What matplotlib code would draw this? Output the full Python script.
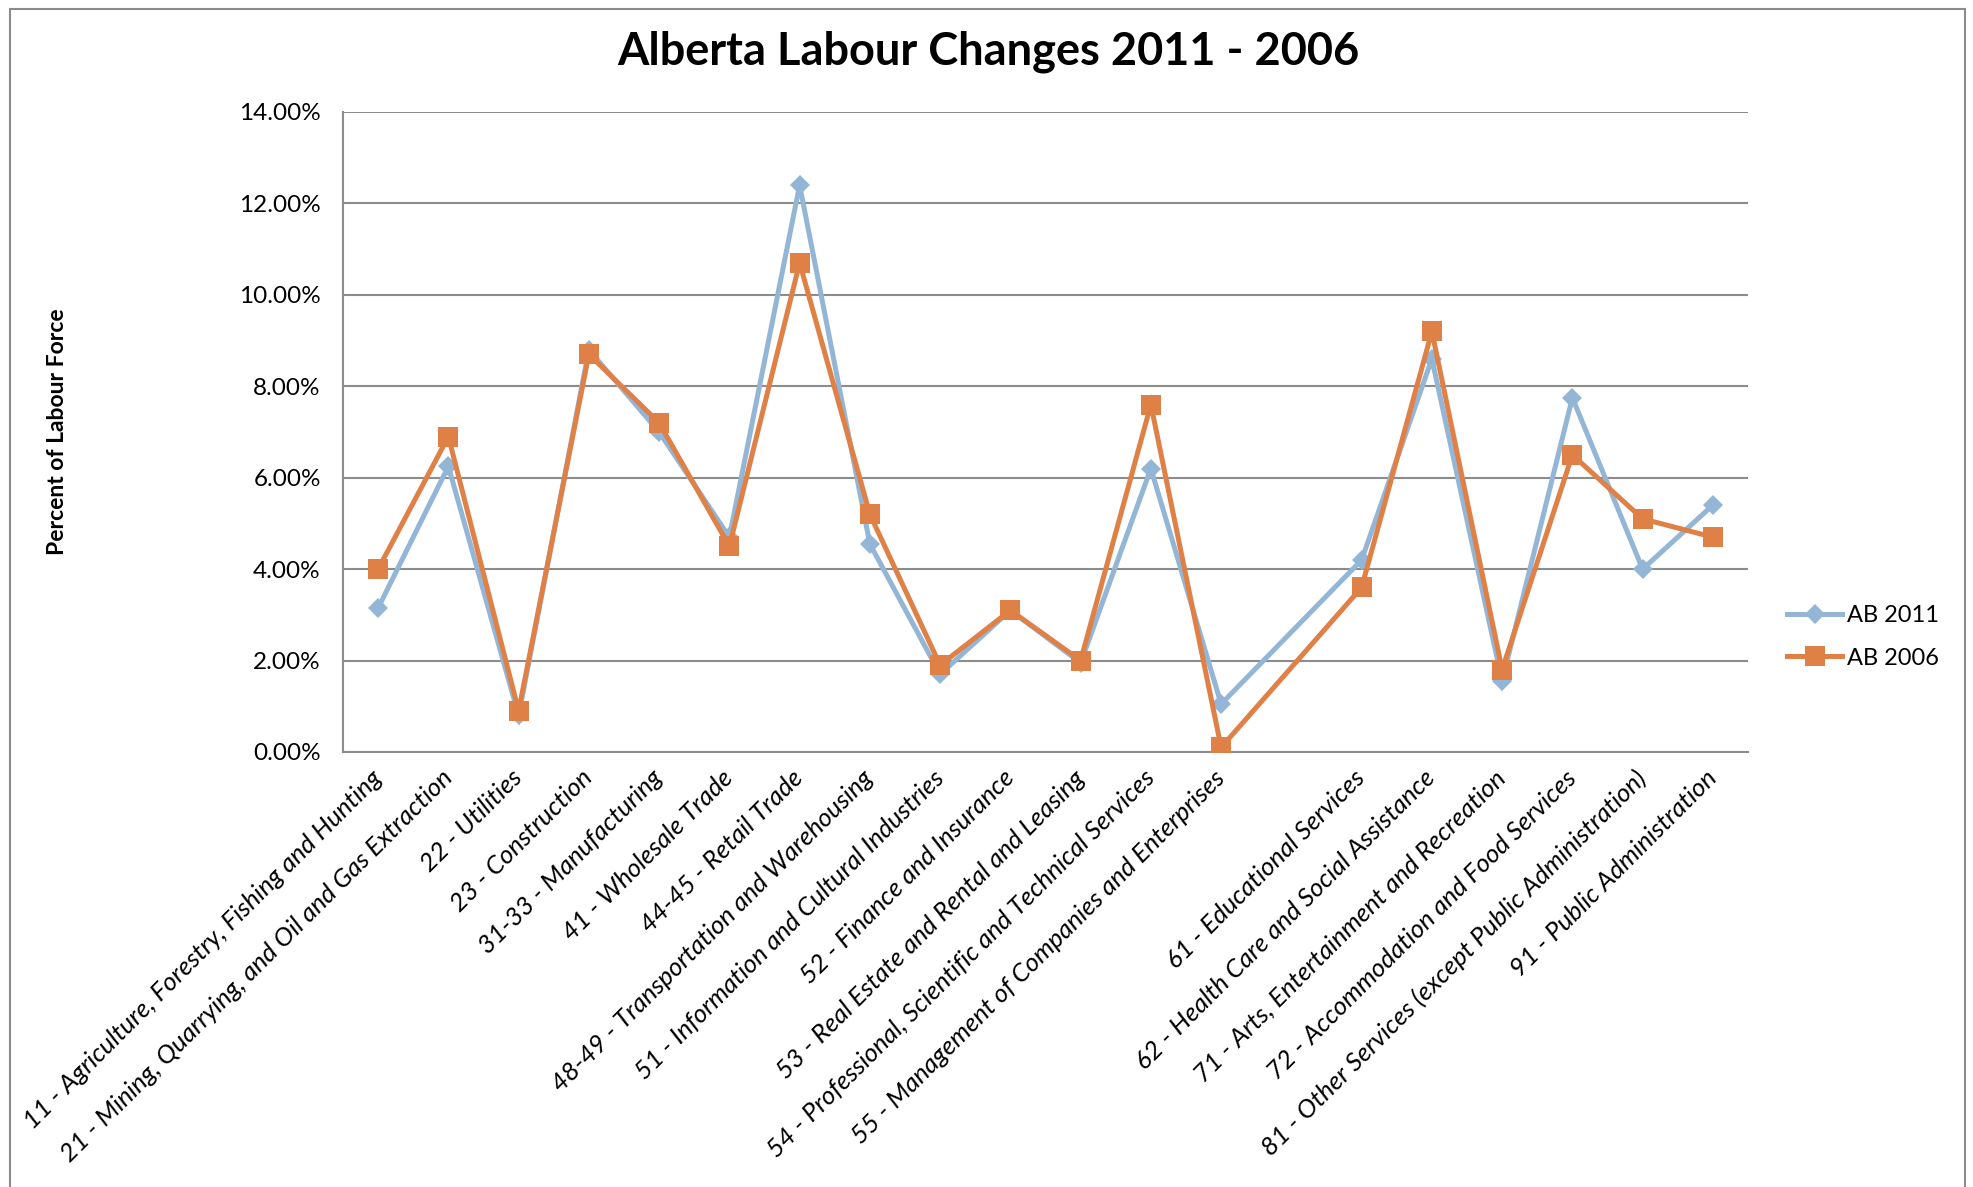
import matplotlib
matplotlib.use('Agg')
import matplotlib.pyplot as plt
from matplotlib.patches import Rectangle
from matplotlib.ticker import MultipleLocator, FuncFormatter
import numpy as np

# Industry categories (slot 13 is an empty category in the source sheet)
industries = [
    '11 - Agriculture, Forestry, Fishing and Hunting',
    '21 - Mining, Quarrying, and Oil and Gas Extraction',
    '22 - Utilities',
    '23 - Construction',
    '31-33 - Manufacturing',
    '41 - Wholesale Trade',
    '44-45 - Retail Trade',
    '48-49 - Transportation and Warehousing',
    '51 - Information and Cultural Industries',
    '52 - Finance and Insurance',
    '53 - Real Estate and Rental and Leasing',
    '54 - Professional, Scientific and Technical Services',
    '55 - Management of Companies and Enterprises',
    '',
    '61 - Educational Services',
    '62 - Health Care and Social Assistance',
    '71 - Arts, Entertainment and Recreation',
    '72 - Accommodation and Food Services',
    '81 - Other Services (except Public Administration)',
    '91 - Public Administration',
]

# percent of labour force
ab_2011 = [3.15, 6.25, 0.80, 8.80, 7.00, 4.70, 12.40, 4.55, 1.70, 3.10,
           1.95, 6.20, 1.05, None, 4.20, 8.60, 1.55, 7.75, 4.00, 5.40]
ab_2006 = [4.00, 6.90, 0.90, 8.70, 7.20, 4.50, 10.70, 5.20, 1.90, 3.10,
           2.00, 7.60, 0.10, None, 3.60, 9.20, 1.80, 6.50, 5.10, 4.70]

series_names = ['AB 2011', 'AB 2006']

BLUE = '#93B5D6'
ORANGE = '#DF8047'
GRID = '#8C8C8C'

plt.rcParams['font.family'] = ['Lato', 'DejaVu Sans']

fig = plt.figure(figsize=(19.73, 11.87), dpi=100)
ax = fig.add_axes([343/1973, 1 - 752/1187, (1748 - 343)/1973, (752 - 112)/1187])

x = np.arange(len(industries))


def valid(vals):
    xs = [i for i, v in enumerate(vals) if v is not None]
    ys = [v for v in vals if v is not None]
    return xs, ys


xs, ys = valid(ab_2011)
ax.plot(xs, ys, color=BLUE, lw=3.6, marker='D', ms=10.5, mew=0,
        label=series_names[0], solid_joinstyle='miter', zorder=3)
xs, ys = valid(ab_2006)
ax.plot(xs, ys, color=ORANGE, lw=3.6, marker='s', ms=14, mew=0,
        label=series_names[1], solid_joinstyle='miter', zorder=4)

ax.set_xlim(-0.5, len(industries) - 0.5)
ax.set_ylim(0, 14)
ax.yaxis.set_major_locator(MultipleLocator(2))
ax.yaxis.set_major_formatter(FuncFormatter(lambda v, p: '{:.2f}%'.format(v)))
ax.grid(axis='y', color=GRID, lw=1.5, zorder=0)
ax.set_axisbelow(True)

for s in ['top', 'right']:
    ax.spines[s].set_visible(False)
for s in ['left', 'bottom']:
    ax.spines[s].set_color(GRID)
    ax.spines[s].set_linewidth(1.5)

ax.tick_params(axis='y', length=0, pad=16, labelsize=17.5)
ax.set_xticks(x)
ax.set_xticklabels(industries, rotation=45, ha='right', va='center',
                   rotation_mode='anchor', fontsize=18.5, style='italic')
ax.tick_params(axis='x', length=0, pad=16)

fig.text(988/1973, 1 - 52/1187, 'Alberta Labour Changes 2011 - 2006',
         ha='center', va='center', fontsize=32.5, fontweight='bold')
fig.text(58/1973, 1 - 432/1187, 'Percent of Labour Force', rotation=90,
         ha='center', va='center', fontsize=16.5, fontweight='bold')

fig.legend(loc='center left', bbox_to_anchor=(1787/1973, 1 - 637/1187),
           frameon=False, fontsize=17, handlelength=2.35, handletextpad=0.2,
           labelspacing=0.9, borderpad=0, borderaxespad=0)

# outer chart frame
fig.patches.append(Rectangle((10/1973, -0.02), (1965 - 10)/1973, 1.02 - 9/1187,
                             transform=fig.transFigure, fill=False,
                             edgecolor=GRID, lw=1.5))

fig.savefig('out.png', dpi=100)
